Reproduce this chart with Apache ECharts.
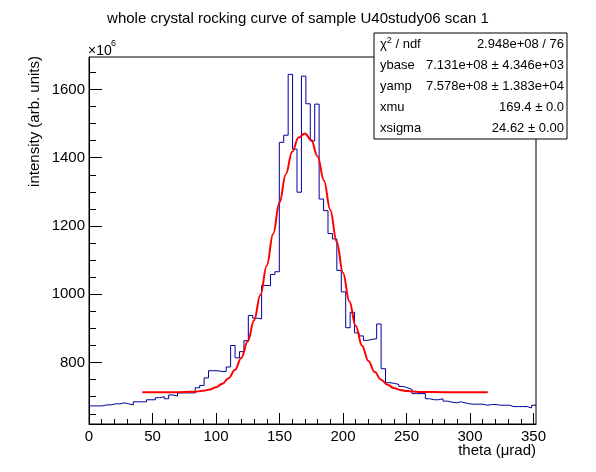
<!DOCTYPE html>
<html>
<head>
<meta charset="utf-8">
<script src="https://cdn.jsdelivr.net/npm/echarts@6/dist/echarts.min.js"></script>
<style>
html, body { margin: 0; padding: 0; background: #fff; }
#main { width: 596px; height: 472px; }
</style>
</head>
<body>
<div id="main"></div>
<script>
// rocking curve histogram, 101 bins from 0 to 352 urad, contents in 1e6
const xMin = 0
const xMax = 352
const binContent = [
  673, 673, 673, 676, 676, 679, 679, 682, 679, 676,
  685, 685, 685, 691, 691, 697, 700, 694, 705, 702,
  711, 711, 711, 711, 726, 733, 755, 776, 776, 774,
  774, 787, 850, 814, 832, 864, 938, 930, 928, 1026,
  1025, 1058, 1066, 1445, 1466, 1644, 1425, 1299, 1639, 1558,
  1449, 1557, 1279, 1245, 1178, 1162, 1070, 1007, 902, 947,
  887, 878, 865, 868, 870, 913, 782, 741, 739, 736,
  730, 726, 721, 709, 709, 709, 694, 691, 691, 694,
  687, 684, 682, 685, 682, 679, 678, 678, 678, 675,
  677, 677, 675, 675, 675, 671, 671, 671, 671, 667,
  675
]

// red fit line
const fitX = [42, 60, 70, 80, 85, 90, 95, 100, 105, 110, 115, 120, 125, 130, 135, 140, 145, 150, 155,
  160, 165, 170, 175, 180, 185, 190, 195, 200, 205, 210, 215, 220, 225, 230, 235, 240, 245, 250,
  255, 260, 280, 314]
const fitY = [713.1, 713.1, 713.3, 714.1, 715.2, 717.3, 721.0, 727.4, 737.9, 754.3, 779.1, 814.3, 862.2,
  923.8, 998.6, 1084.5, 1176.9, 1268.5, 1351.8, 1417.6, 1458.9, 1470.7, 1451.6, 1403.9, 1333.1,
  1247.1, 1154.4, 1063.1, 979.5, 907.6, 849.5, 804.8, 772.3, 749.8, 734.9, 725.5, 719.9, 716.7,
  714.9, 714.0, 713.1, 713.1]

const yMin = 620
const yMax = 1695
const yMajorTicks = [800, 1000, 1200, 1400, 1600]
const yMinorTicks = [650, 700, 750, 850, 900, 950, 1050, 1100, 1150, 1250, 1300, 1350, 1450, 1500, 1550, 1650]
const xMajorTicks = [0, 50, 100, 150, 200, 250, 300, 350]
const xMinorTicks = [10, 20, 30, 40, 60, 70, 80, 90, 110, 120, 130, 140, 160, 170, 180, 190,
  210, 220, 230, 240, 260, 270, 280, 290, 310, 320, 330, 340]

const statLabels = ['χ{sup|2} / ndf', 'ybase', 'yamp', 'xmu', 'xsigma']
const statValues = ['2.948e+08 / 76', '7.131e+08 ± 4.346e+03', '7.578e+08 ± 1.383e+04', '169.4 ± 0.0', '24.62 ± 0.00']
const statRowY = [44, 65, 86, 107, 128]

const font = 'Liberation Sans, Arial, Helvetica, sans-serif'

let binWidth = (xMax - xMin) / binContent.length
let histPts = []
binContent.forEach((v, i) => {
  histPts.push([xMin + i * binWidth, v])
  histPts.push([xMin + (i + 1) * binWidth, v])
})
let fitPts = fitX.map((x, i) => [x, fitY[i]])

let statGraphics = [{
  type: 'rect',
  shape: { x: 374, y: 33, width: 193, height: 106 },
  style: { fill: '#fff', stroke: '#000', lineWidth: 1 },
  z: 100
}]
statLabels.forEach((lab, i) => {
  statGraphics.push({
    type: 'text', x: 380, y: statRowY[i], z: 101,
    style: {
      text: lab, fill: '#000', font: '13px ' + font, verticalAlign: 'middle',
      rich: { sup: { fontSize: 9, fontFamily: font, verticalAlign: 'top', padding: [0, 0, 7, 0] } }
    }
  })
  statGraphics.push({
    type: 'text', x: 564, y: statRowY[i], z: 101,
    style: { text: statValues[i], fill: '#000', font: '13px ' + font, align: 'right', verticalAlign: 'middle' }
  })
})

let chart = echarts.init(document.getElementById('main'), null, { renderer: 'canvas' })

const option = {
  animation: false,
  backgroundColor: '#fff',
  title: {
    text: 'whole crystal rocking curve of sample U40study06 scan 1',
    left: 'center',
    top: 6,
    textStyle: { fontSize: 15, fontWeight: 'normal', color: '#000', fontFamily: font }
  },
  grid: {
    left: 89, top: 57, width: 447, height: 367,
    show: true, borderColor: '#000', borderWidth: 1, backgroundColor: 'transparent'
  },
  xAxis: [
    {
      type: 'value', min: xMin, max: xMax, position: 'bottom',
      axisLine: { lineStyle: { color: '#000', width: 1 } },
      axisTick: { inside: true, length: 11, customValues: xMajorTicks, lineStyle: { color: '#000' } },
      axisLabel: { customValues: xMajorTicks, color: '#000', fontSize: 15, fontFamily: font, margin: 5 },
      splitLine: { show: false }
    },
    {
      type: 'value', min: xMin, max: xMax, position: 'bottom',
      axisLine: { show: false },
      axisTick: { inside: true, length: 5, customValues: xMinorTicks, lineStyle: { color: '#000' } },
      axisLabel: { show: false },
      splitLine: { show: false }
    }
  ],
  yAxis: [
    {
      type: 'value', min: yMin, max: yMax, position: 'left',
      axisLine: { show: true, lineStyle: { color: '#000', width: 1 } },
      axisTick: { show: true, inside: true, length: 13, customValues: yMajorTicks, lineStyle: { color: '#000' } },
      axisLabel: {
        customValues: yMajorTicks, color: '#000', fontSize: 15, fontFamily: font, margin: 4,
        formatter: v => String(v)
      },
      splitLine: { show: false }
    },
    {
      type: 'value', min: yMin, max: yMax, position: 'left',
      axisLine: { show: false },
      axisTick: { show: true, inside: true, length: 7, customValues: yMinorTicks, lineStyle: { color: '#000' } },
      axisLabel: { show: false },
      splitLine: { show: false }
    }
  ],
  series: [
    {
      name: 'hist', type: 'line', data: histPts,
      showSymbol: false, symbol: 'none',
      lineStyle: { color: '#000099', width: 1 },
      z: 2
    },
    {
      name: 'fit', type: 'line', data: fitPts,
      showSymbol: false, symbol: 'none', smooth: 0.4, smoothMonotone: 'x',
      lineStyle: { color: '#ff0000', width: 2 },
      z: 3
    }
  ],
  graphic: [
    {
      type: 'text', x: 88, y: 44,
      style: { text: '×10', fill: '#000', font: '14px ' + font }
    },
    {
      type: 'text', x: 111, y: 39,
      style: { text: '6', fill: '#000', font: '9px ' + font }
    },
    {
      type: 'text', x: 35, y: 56, rotation: Math.PI / 2,
      style: { text: 'intensity (arb. units)', fill: '#000', font: '15px ' + font, align: 'right', verticalAlign: 'middle' }
    },
    {
      type: 'text', x: 536, y: 451,
      style: { text: 'theta (μrad)', fill: '#000', font: '15px ' + font, align: 'right', verticalAlign: 'middle' }
    },
    ...statGraphics
  ]
}

chart.setOption(option)
</script>
</body>
</html>
